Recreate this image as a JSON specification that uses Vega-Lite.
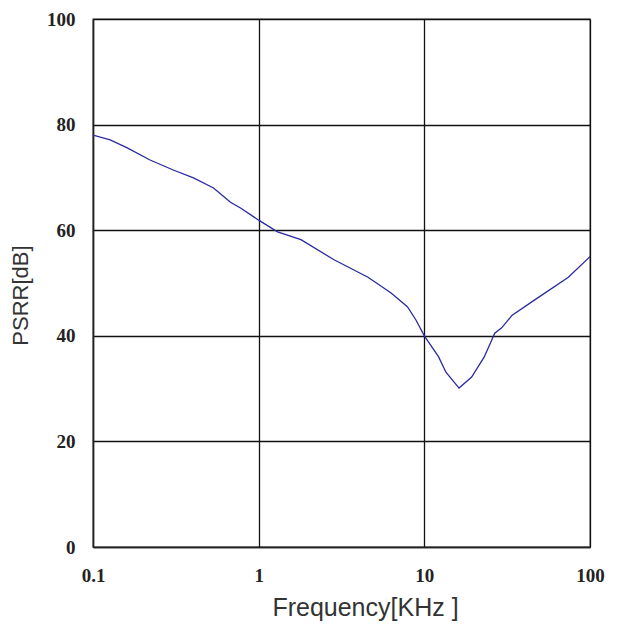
{
  "$schema": "https://vega.github.io/schema/vega-lite/v6.json",
  "autosize": {"type": "none"},
  "padding": {"left": 93, "top": 19, "right": 27, "bottom": 85},
  "width": 497,
  "height": 528,
  "background": "#ffffff",
  "config": {
    "view": {"stroke": "#8a8a8a", "strokeWidth": 1.5},
    "axis": {
      "grid": true,
      "gridColor": "#111111",
      "gridWidth": 1.3,
      "gridOpacity": 1,
      "ticks": false,
      "domainColor": "#222222",
      "domainWidth": 1.5,
      "labelFont": "Liberation Serif",
      "labelFontSize": 19,
      "labelFontWeight": "bold",
      "labelColor": "#222222",
      "titleFont": "Liberation Sans",
      "titleFontWeight": "normal",
      "titleColor": "#333333"
    }
  },
  "data": {
    "values": [
      {"f": 0.1, "psrr": 78.0},
      {"f": 0.127, "psrr": 77.1},
      {"f": 0.161, "psrr": 75.6},
      {"f": 0.221, "psrr": 73.3},
      {"f": 0.305, "psrr": 71.4},
      {"f": 0.404, "psrr": 69.9},
      {"f": 0.534, "psrr": 68.0},
      {"f": 0.676, "psrr": 65.3},
      {"f": 0.777, "psrr": 64.2},
      {"f": 1.0, "psrr": 61.9},
      {"f": 1.3, "psrr": 59.7},
      {"f": 1.8, "psrr": 58.2},
      {"f": 2.85, "psrr": 54.4},
      {"f": 4.57, "psrr": 51.1},
      {"f": 6.3, "psrr": 48.1},
      {"f": 7.9, "psrr": 45.5},
      {"f": 8.9, "psrr": 43.0},
      {"f": 10.0, "psrr": 40.0},
      {"f": 12.2, "psrr": 36.0},
      {"f": 13.5, "psrr": 33.1},
      {"f": 16.2, "psrr": 30.1},
      {"f": 19.3, "psrr": 32.2},
      {"f": 23.0, "psrr": 36.0},
      {"f": 26.6, "psrr": 40.5},
      {"f": 29.3, "psrr": 41.5},
      {"f": 33.9, "psrr": 43.9},
      {"f": 46.4, "psrr": 46.8},
      {"f": 74.0, "psrr": 51.1},
      {"f": 100.0, "psrr": 55.0}
    ]
  },
  "mark": {"type": "line", "color": "#2a2aa0", "strokeWidth": 1.3, "clip": true},
  "encoding": {
    "x": {
      "field": "f",
      "type": "quantitative",
      "scale": {"type": "log", "domain": [0.1, 100], "nice": false},
      "axis": {
        "values": [0.1, 1, 10, 100],
        "labelExpr": "datum.value < 1 ? '0.1' : format(datum.value, 'd')",
        "labelPadding": 19,
        "labelFlush": false,
        "title": "Frequency[KHz ]",
        "titleFontSize": 25,
        "titlePadding": 10,
        "titleX": 272,
        "titleAlign": "center"
      }
    },
    "y": {
      "field": "psrr",
      "type": "quantitative",
      "scale": {"domain": [0, 100], "nice": false},
      "axis": {
        "values": [0, 20, 40, 60, 80, 100],
        "labelPadding": 18,
        "title": "PSRR[dB]",
        "titleFontSize": 22,
        "titlePadding": 14,
        "titleY": 276
      }
    }
  }
}
